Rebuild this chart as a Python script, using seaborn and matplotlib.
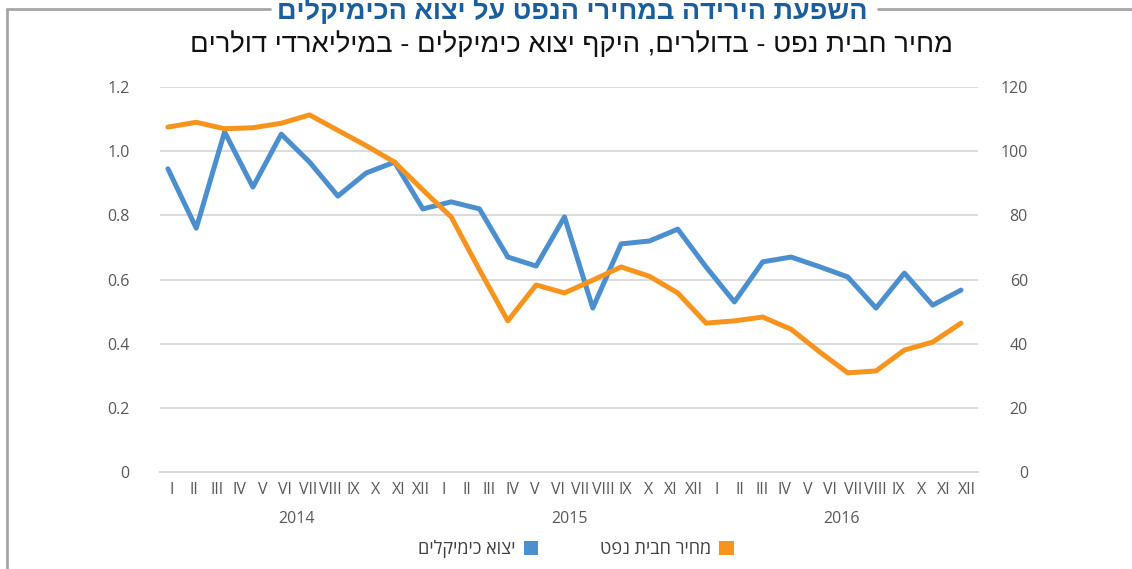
import numpy as np
import pandas as pd
import matplotlib
matplotlib.use("Agg")
import matplotlib.pyplot as plt
from matplotlib import font_manager
from matplotlib.patches import Patch
from matplotlib.lines import Line2D
import matplotlib.transforms as mtransforms
import seaborn as sns

# ---------------- data ----------------
chem_exports = [0.945, 0.76, 1.06, 0.888, 1.053, 0.966, 0.86, 0.932, 0.966, 0.82,
                0.842, 0.82, 0.67, 0.642, 0.795, 0.511, 0.711, 0.72, 0.757, 0.639,
                0.53, 0.655, 0.67, 0.64, 0.608, 0.511, 0.62, 0.52, 0.567]
oil_price = [107.5, 109.0, 107.0, 107.3, 108.7, 111.3, 106.5, 101.7, 96.6, 87.9,
             79.5, 63.0, 47.1, 58.3, 55.8, 59.8, 63.9, 61.0, 55.8, 46.4,
             47.1, 48.3, 44.5, 37.5, 30.9, 31.5, 38.0, 40.5, 46.4]
month_labels = ["I", "II", "III", "IV", "V", "VI", "VII", "VIII", "IX", "X", "XI", "XII"]
years = ["2014", "2015", "2016"]
left_ticks = [0, 0.2, 0.4, 0.6, 0.8, 1.0, 1.2]
left_tick_labels = ["0", "0.2", "0.4", "0.6", "0.8", "1.0", "1.2"]
right_ticks = [0, 20, 40, 60, 80, 100, 120]

title = "השפעת הירידה במחירי הנפט על יצוא הכימיקלים"
subtitle = "מחיר חבית נפט - בדולרים, היקף יצוא כימיקלים - במיליארדי דולרים"
name_chem = "יצוא כימיקלים"
name_oil = "מחיר חבית נפט"


def vis(s):
    # visual order for right-to-left text
    return s[::-1]


def pick(names):
    for n in names:
        try:
            font_manager.findfont(n, fallback_to_default=False)
            return n
        except Exception:
            pass
    return "DejaVu Sans"


sns.set_theme(style="white")
base_font = pick(["Open Sans", "Liberation Sans"])
plt.rcParams["font.family"] = [base_font, "DejaVu Sans"]
narrow = pick(["Liberation Sans Narrow", "DejaVu Sans Condensed", "Liberation Sans"])

BLUE = "#4C8FCF"
ORANGE = "#F7941E"
GRID = "#D9D9D9"
TXT = "#595959"

W, H = 1132, 569
fig = plt.figure(figsize=(W / 100, H / 100), dpi=100)
fig.patch.set_facecolor("white")


def px_rect(l, t, r, b):
    return [l / W, 1 - b / H, (r - l) / W, (b - t) / H]


rect = px_rect(160, 87, 978, 472)

# month axis (category axis for labels)
mx = fig.add_axes(rect, frameon=False)
mx.set_xlim(0, 36)
mx.set_ylim(0, 1)
mx.set_yticks([])
mx.set_xticks(np.arange(36) + 0.5)
mx.set_xticklabels(month_labels * 3, fontsize=11.5, color=TXT)
mx.set_xticks([12, 24], minor=True)
mx.tick_params(axis="x", which="major", length=0, pad=7)
mx.tick_params(axis="x", which="minor", length=15, width=1.2, color=GRID, direction="out")
mx.patch.set_alpha(0)
trans = mtransforms.blended_transform_factory(mx.transData, fig.transFigure)
for i, y in enumerate(years):
    mx.text(6 + 12 * i, 1 - 519 / H, y, transform=trans, ha="center", va="center",
            fontsize=11.5, color=TXT)

# main axes
ax = fig.add_axes(rect)
ax.patch.set_alpha(0)
df = pd.DataFrame({"idx": np.arange(len(chem_exports)),
                   "chem": chem_exports, "oil": oil_price})
sns.lineplot(data=df, x="idx", y="chem", ax=ax, color=BLUE, linewidth=3.6,
             solid_capstyle="round", solid_joinstyle="round")
ax.set_xlim(-0.28, len(chem_exports) - 1 + 0.6)
ax.set_ylim(0, 1.2)
ax.set_yticks(left_ticks)
ax.set_yticklabels(left_tick_labels, fontsize=11.5, color=TXT)
ax.tick_params(axis="y", length=0, pad=22)
ax.set_xticks([])
ax.set_xlabel("")
ax.set_ylabel("")
for s in ["top", "left", "right"]:
    ax.spines[s].set_visible(False)
ax.spines["bottom"].set_color(GRID)
ax.spines["bottom"].set_linewidth(1.5)
ax.grid(axis="y", color=GRID, linewidth=1.3)
ax.set_axisbelow(True)

ax2 = ax.twinx()
sns.lineplot(data=df, x="idx", y="oil", ax=ax2, color=ORANGE, linewidth=3.6,
             solid_capstyle="round", solid_joinstyle="round")
ax2.set_ylim(0, 120)
ax2.set_yticks(right_ticks)
ax2.set_yticklabels([str(v) for v in right_ticks], fontsize=11.5, color=TXT, ha="right")
ax2.tick_params(axis="y", length=0, pad=36)
ax2.set_xlabel("")
ax2.set_ylabel("")
for s in ax2.spines.values():
    s.set_visible(False)
ax2.grid(False)

# legend
handles = [Patch(facecolor=BLUE, edgecolor="none", label=vis(name_chem)),
           Patch(facecolor=ORANGE, edgecolor="none", label=vis(name_oil))]
fig.legend(handles=handles, loc="center", bbox_to_anchor=(576 / W, 1 - 549 / H),
           ncol=2, frameon=False, markerfirst=False, fontsize=13,
           handlelength=0.8, handleheight=0.8, handletextpad=0.45,
           columnspacing=3.4, labelcolor="#404040")

# frame lines
fig.add_artist(Line2D([7 / W, 7 / W], [0, 1 - 9 / H], transform=fig.transFigure,
                      color="#A6A6A6", linewidth=2))
fig.add_artist(Line2D([7 / W, 270 / W], [1 - 9 / H, 1 - 9 / H], transform=fig.transFigure,
                      color="#A6A6A6", linewidth=2))
fig.add_artist(Line2D([878 / W, 1.0], [1 - 9 / H, 1 - 9 / H], transform=fig.transFigure,
                      color="#A6A6A6", linewidth=2))

# titles
t1 = fig.text(572 / W, 1 - 12 / H, vis(title), ha="center", va="center",
              fontsize=22, fontweight="bold", color="#1B5E9E", family=[narrow, "DejaVu Sans"])
t2 = fig.text(571 / W, 1 - 45 / H, vis(subtitle), ha="center", va="center",
              fontsize=18, color="#111111", family=[narrow, "DejaVu Sans"])

r = fig.canvas.get_renderer()
for t, target in [(t1, 592), (t2, 762)]:
    w = t.get_window_extent(r).width
    t.set_fontsize(t.get_fontsize() * target / w)

fig.savefig("out.png", dpi=100, facecolor="white")
